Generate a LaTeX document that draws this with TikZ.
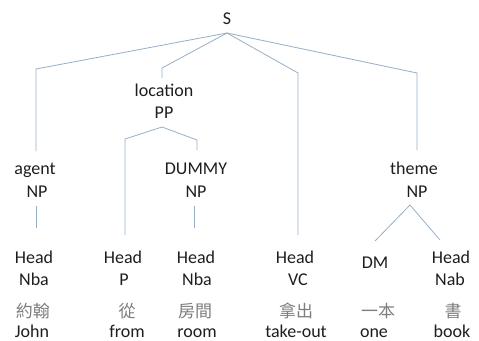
\documentclass[tikz,border=0pt]{standalone}
\usepackage{fontspec}
\setmainfont{Carlito}
\newfontfamily\cjk{Noto Sans CJK TC}
\definecolor{branch}{RGB}{150,174,198}
\definecolor{labeltext}{RGB}{30,30,30}
\definecolor{hanzi}{RGB}{125,125,125}
\begin{document}
\begin{tikzpicture}[x=1pt,y=-1pt,
  lbl/.style={anchor=base,inner sep=0pt,font=\fontsize{18}{22}\selectfont,text=labeltext},
  han/.style={anchor=base,inner sep=0pt,font=\fontsize{17}{22}\selectfont\cjk,text=hanzi},
  edge/.style={draw=branch,line width=0.8pt,line join=miter}]
\useasboundingbox (0,0) rectangle (479,340);

% root
\node[lbl] (S) at (227,24) {S};

% first-level constituents
\node[lbl] (agent) at (35,174) {agent};
\node[lbl] (agentNP) at (37,197) {NP};
\node[lbl] (loc) at (164,96) {location};
\node[lbl] (locPP) at (164,118) {PP};
\node[lbl] (dummy) at (196,174) {DUMMY};
\node[lbl] (dummyNP) at (196,197) {NP};
\node[lbl] (theme) at (414,174) {theme};
\node[lbl] (themeNP) at (417,197) {NP};

% heads and categories
\node[lbl] (h1) at (34,263) {Head};
\node[lbl] (c1) at (34,285) {Nba};
\node[lbl] (h2) at (123,263) {Head};
\node[lbl] (c2) at (124,285) {P};
\node[lbl] (h3) at (196,263) {Head};
\node[lbl] (c3) at (197,285) {Nba};
\node[lbl] (h4) at (295,263) {Head};
\node[lbl] (c4) at (298,285) {VC};
\node[lbl] (dm) at (375,268) {DM};
\node[lbl] (h6) at (451,263) {Head};
\node[lbl] (c6) at (450,285) {Nab};

% words and glosses
\node[han] (w1) at (33,317) {約翰};
\node[lbl] (g1) at (32,337) {John};
\node[han] (w2) at (127,317) {從};
\node[lbl] (g2) at (127,337) {from};
\node[han] (w3) at (195,317) {房間};
\node[lbl] (g3) at (197,337) {room};
\node[han] (w4) at (296,317) {拿出};
\node[lbl] (g4) at (296,337) {take-out};
\node[han] (w5) at (378,317) {一本};
\node[lbl] (g5) at (374,337) {one};
\node[han] (w6) at (453,317) {書};
\node[lbl] (g6) at (452,337) {book};

% branch points
\coordinate (sroot) at (227,33);
\coordinate (aknee) at (36,69);
\coordinate (atop) at (36,151);
\coordinate (lknee) at (162,68);
\coordinate (ltop) at (162,78);
\coordinate (vknee) at (298,73);
\coordinate (vtop) at (298,235);
\coordinate (tknee) at (417,73);
\coordinate (ttop) at (417,150);
\coordinate (pproot) at (162,127);
\coordinate (pleft) at (125,139);
\coordinate (pbot) at (125,235);
\coordinate (pright) at (197,140);
\coordinate (dtop) at (197,150);
\coordinate (abot1) at (36,206);
\coordinate (abot2) at (36,228);
\coordinate (dbot1) at (194,206);
\coordinate (dbot2) at (194,228);
\coordinate (nproot) at (410,205);
\coordinate (dmtop) at (375,241);
\coordinate (nabtop) at (440,240);

% branches from S
\draw[edge] (sroot) -- (aknee) -- (atop);
\draw[edge] (sroot) -- (lknee) -- (ltop);
\draw[edge] (sroot) -- (vknee) -- (vtop);
\draw[edge] (sroot) -- (tknee) -- (ttop);

% branches inside the PP
\draw[edge] (pproot) -- (pleft) -- (pbot);
\draw[edge] (pproot) -- (pright) -- (dtop);

% unary NP branches
\draw[edge] (abot1) -- (abot2);
\draw[edge] (dbot1) -- (dbot2);

% theme NP
\draw[edge] (dmtop) -- (nproot) -- (nabtop);
\end{tikzpicture}
\end{document}
